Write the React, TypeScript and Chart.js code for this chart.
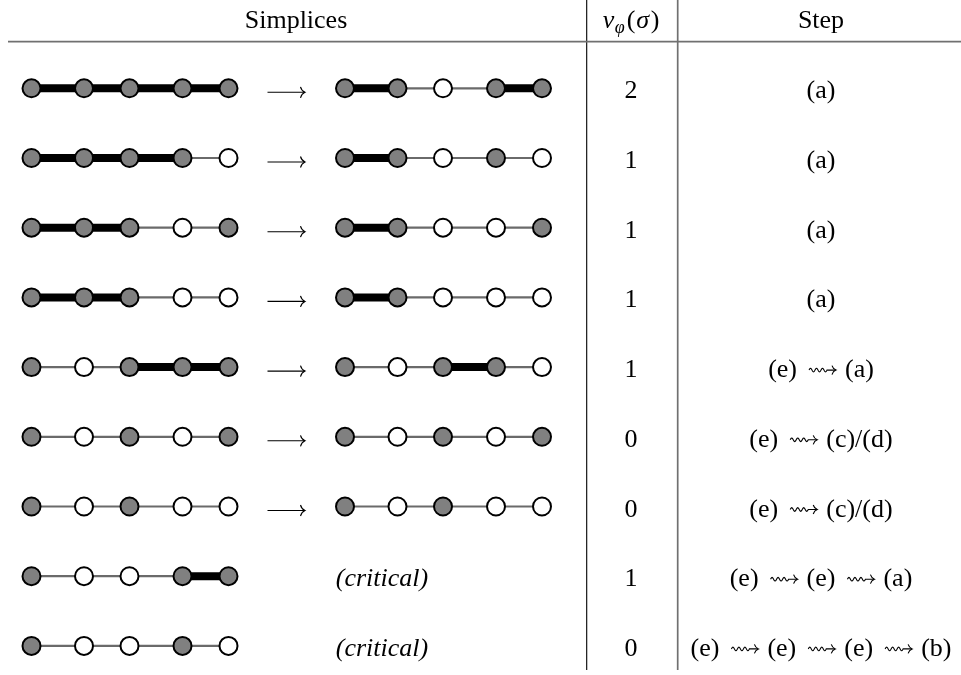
import React, { useEffect, useRef } from "react";
import { Chart, registerables } from "chart.js";

Chart.register(...registerables);

// ---- data ----
const headers = ["Simplices", "v_φ(σ)", "Step"];
// 1 = filled (grey) vertex, 0 = empty (white) vertex
const leftNodes = [
  [1, 1, 1, 1, 1],
  [1, 1, 1, 1, 0],
  [1, 1, 1, 0, 1],
  [1, 1, 1, 0, 0],
  [1, 0, 1, 1, 1],
  [1, 0, 1, 0, 1],
  [1, 0, 1, 0, 0],
  [1, 0, 0, 1, 1],
  [1, 0, 0, 1, 0],
];
// 1 = thick (matched) edge, 0 = thin edge
const leftEdges = [
  [1, 1, 1, 1],
  [1, 1, 1, 0],
  [1, 1, 0, 0],
  [1, 1, 0, 0],
  [0, 0, 1, 1],
  [0, 0, 0, 0],
  [0, 0, 0, 0],
  [0, 0, 0, 1],
  [0, 0, 0, 0],
];
const rightNodes = [
  [1, 1, 0, 1, 1],
  [1, 1, 0, 1, 0],
  [1, 1, 0, 0, 1],
  [1, 1, 0, 0, 0],
  [1, 0, 1, 1, 0],
  [1, 0, 1, 0, 1],
  [1, 0, 1, 0, 0],
  null,
  null,
];
const rightEdges = [
  [1, 0, 0, 1],
  [1, 0, 0, 0],
  [1, 0, 0, 0],
  [1, 0, 0, 0],
  [0, 0, 1, 0],
  [0, 0, 0, 0],
  [0, 0, 0, 0],
  null,
  null,
];
const criticalLabel = "(critical)";
const vValues = [2, 1, 1, 1, 1, 0, 0, 1, 0];
const steps = [
  "(a)",
  "(a)",
  "(a)",
  "(a)",
  "(e) ⇝ (a)",
  "(e) ⇝ (c)/(d)",
  "(e) ⇝ (c)/(d)",
  "(e) ⇝ (e) ⇝ (a)",
  "(e) ⇝ (e) ⇝ (e) ⇝ (b)",
];

// ---- layout (positions in scale units = pixels of the 961x675 frame) ----
const W = 961;
const H = 675;
const ROW_Y0 = 88.3;
const ROW_STEP = 69.7;
const NODE_OFF = [0, 52.5, 98, 151, 197];
const LEFT_X = 31.5;
const RIGHT_X = 345;
const ARROW_X0 = 267.5;
const ARROW_X1 = 305;
const CRIT_X = 382;
const VCOL_X = 631;
const STEP_X = 821;
const SIMPL_X = 296;
const HEAD_BASE = 28;
const RULE_Y = 41.7;
const VLINE1 = 586.7;
const VLINE2 = 677.7;

const SERIF = '"Liberation Serif", "Times New Roman", serif';
const FS = 26;

const rowY = (i: number) => ROW_Y0 + i * ROW_STEP;

function lineDs(points: { x: number; y: number }[], color: string, width: number, order = 5) {
  return {
    type: "scatter",
    data: points,
    showLine: true,
    borderColor: color,
    backgroundColor: color,
    borderWidth: width,
    borderCapStyle: "butt",
    pointRadius: 0,
    pointHoverRadius: 0,
    fill: false,
    order,
  };
}

function buildDatasets() {
  const ds: any[] = [];
  ds.push(lineDs([{ x: 8, y: RULE_Y }, { x: W, y: RULE_Y }], "#707070", 1.7, 9));
  ds.push(lineDs([{ x: VLINE1, y: 0 }, { x: VLINE1, y: 670 }], "#000000", 1.1, 9));
  ds.push(lineDs([{ x: VLINE2, y: 0 }, { x: VLINE2, y: 670 }], "#707070", 1.7, 9));

  const filled: { x: number; y: number }[] = [];
  const empty: { x: number; y: number }[] = [];

  const addGraph = (nodes: number[] | null, edges: number[] | null, ox: number, y: number) => {
    if (!nodes || !edges) return;
    edges.forEach((e, j) => {
      const a = { x: ox + NODE_OFF[j], y };
      const b = { x: ox + NODE_OFF[j + 1], y };
      if (e) ds.push(lineDs([a, b], "#000000", 8, 4));
      else ds.push(lineDs([a, b], "#6a6a6a", 2.2, 5));
    });
    nodes.forEach((n, j) => {
      const p = { x: ox + NODE_OFF[j], y };
      if (n) filled.push(p);
      else empty.push(p);
    });
  };

  leftNodes.forEach((n, i) => {
    addGraph(n, leftEdges[i], LEFT_X, rowY(i));
    addGraph(rightNodes[i], rightEdges[i], RIGHT_X, rowY(i));
  });

  const nodeDs = (data: any[], fill: string) => ({
    type: "scatter",
    data,
    showLine: false,
    pointRadius: 9,
    pointHoverRadius: 9,
    pointBackgroundColor: fill,
    pointBorderColor: "#000000",
    pointBorderWidth: 2,
    backgroundColor: fill,
    borderColor: "#000000",
    borderWidth: 2,
    order: 0,
  });
  ds.push(nodeDs(filled, "#808080"));
  ds.push(nodeDs(empty, "#ffffff"));
  return ds;
}

// long right arrow (⟶) drawn as a stroke
function drawLongArrow(ctx: CanvasRenderingContext2D, x0: number, x1: number, y: number) {
  ctx.save();
  ctx.strokeStyle = "#000";
  ctx.lineWidth = 1.1;
  ctx.beginPath();
  ctx.moveTo(x0, y);
  ctx.lineTo(x1 - 0.5, y);
  ctx.stroke();
  ctx.beginPath();
  ctx.moveTo(x1 - 4.5, y - 5.5);
  ctx.quadraticCurveTo(x1 - 3.5, y - 1.5, x1, y);
  ctx.quadraticCurveTo(x1 - 3.5, y + 1.5, x1 - 4.5, y + 5.5);
  ctx.stroke();
  ctx.restore();
}

// squiggly right arrow (⇝) drawn as a stroke
const SQ_W = 27;
function drawSquiggle(ctx: CanvasRenderingContext2D, x0: number, y: number) {
  ctx.save();
  ctx.strokeStyle = "#000";
  ctx.lineWidth = 1.1;
  ctx.beginPath();
  const waveEnd = x0 + 18;
  const wl = 6;
  for (let x = x0; x <= waveEnd; x += 0.5) {
    const yy = y - 1.8 * Math.sin(((x - x0) / wl) * Math.PI * 2);
    if (x === x0) ctx.moveTo(x, yy);
    else ctx.lineTo(x, yy);
  }
  ctx.lineTo(x0 + SQ_W - 0.5, y);
  ctx.stroke();
  const tip = x0 + SQ_W;
  ctx.beginPath();
  ctx.moveTo(tip - 4, y - 4.5);
  ctx.quadraticCurveTo(tip - 3, y - 1.2, tip, y);
  ctx.quadraticCurveTo(tip - 3, y + 1.2, tip - 4, y + 4.5);
  ctx.stroke();
  ctx.restore();
}

const textPlugin = {
  id: "tableText",
  afterDatasetsDraw(chart: any) {
    const ctx: CanvasRenderingContext2D = chart.ctx;
    const xs = chart.scales.x;
    const ys = chart.scales.y;
    const px = (v: number) => xs.getPixelForValue(v);
    const py = (v: number) => ys.getPixelForValue(v);
    ctx.save();
    ctx.fillStyle = "#000";
    ctx.textBaseline = "alphabetic";

    // headers
    ctx.textAlign = "center";
    ctx.font = `${FS}px ${SERIF}`;
    ctx.fillText(headers[0], px(SIMPL_X), py(HEAD_BASE));
    ctx.fillText(headers[2], px(STEP_X), py(HEAD_BASE));

    // v_φ(σ)
    const parts = [
      { t: "v", f: `italic ${FS}px ${SERIF}`, dy: 0, gap: 0.5 },
      { t: "φ", f: `italic 18px ${SERIF}`, dy: 5, gap: 2 },
      { t: "(", f: `${FS}px ${SERIF}`, dy: 0, gap: 1 },
      { t: "σ", f: `italic ${FS}px ${SERIF}`, dy: 0, gap: 1.5 },
      { t: ")", f: `${FS}px ${SERIF}`, dy: 0, gap: 0 },
    ];
    ctx.textAlign = "left";
    let tw = 0;
    const ws = parts.map((p) => {
      ctx.font = p.f;
      const w = ctx.measureText(p.t).width + p.gap;
      tw += w;
      return w;
    });
    let cx = px(VCOL_X) - tw / 2;
    parts.forEach((p, k) => {
      ctx.font = p.f;
      ctx.fillText(p.t, cx, py(HEAD_BASE) + p.dy);
      cx += ws[k];
    });

    // rows
    leftNodes.forEach((_, i) => {
      const y = rowY(i);
      const base = py(y + 10);
      ctx.textAlign = "center";
      if (rightNodes[i]) {
        drawLongArrow(ctx, px(ARROW_X0), px(ARROW_X1), py(y + 4));
      } else {
        ctx.font = `italic ${FS}px ${SERIF}`;
        ctx.fillText(criticalLabel, px(CRIT_X), base);
      }
      ctx.font = `${FS}px ${SERIF}`;
      ctx.fillText(String(vValues[i]), px(VCOL_X), base);

      // step with squiggle arrows
      const toks = steps[i].split(" ⇝ ");
      const gapL = 12;
      const gapR = 9;
      ctx.font = `${FS}px ${SERIF}`;
      const tws = toks.map((t) => ctx.measureText(t).width);
      const total = tws.reduce((a, b) => a + b, 0) + (toks.length - 1) * (SQ_W + gapL + gapR);
      let x = px(STEP_X) - total / 2;
      ctx.textAlign = "left";
      toks.forEach((t, k) => {
        ctx.fillText(t, x, base);
        x += tws[k];
        if (k < toks.length - 1) {
          x += gapL;
          drawSquiggle(ctx, x, base - 7);
          x += SQ_W + gapR;
        }
      });
    });
    ctx.restore();
  },
};

export default function App() {
  const ref = useRef<HTMLCanvasElement | null>(null);
  useEffect(() => {
    document.body.style.margin = "0";
    document.body.style.background = "#ffffff";
    const canvas = ref.current!;
    const chart = new Chart(canvas, {
      type: "scatter",
      data: { datasets: buildDatasets() as any },
      options: {
        animation: false,
        responsive: false,
        maintainAspectRatio: false,
        events: [],
        layout: { padding: 0, autoPadding: false },
        plugins: {
          legend: { display: false },
          tooltip: { enabled: false },
          title: { display: false },
        },
        scales: {
          x: { type: "linear", min: 0, max: W, display: false },
          y: { type: "linear", min: 0, max: H, reverse: true, display: false },
        },
      },
      plugins: [textPlugin],
    } as any);
    return () => chart.destroy();
  }, []);
  return (
    <div style={{ position: "absolute", left: 0, top: 0, width: W, height: H, background: "#fff" }}>
      <canvas ref={ref} width={W} height={H} style={{ display: "block", width: W, height: H }} />
    </div>
  );
}
